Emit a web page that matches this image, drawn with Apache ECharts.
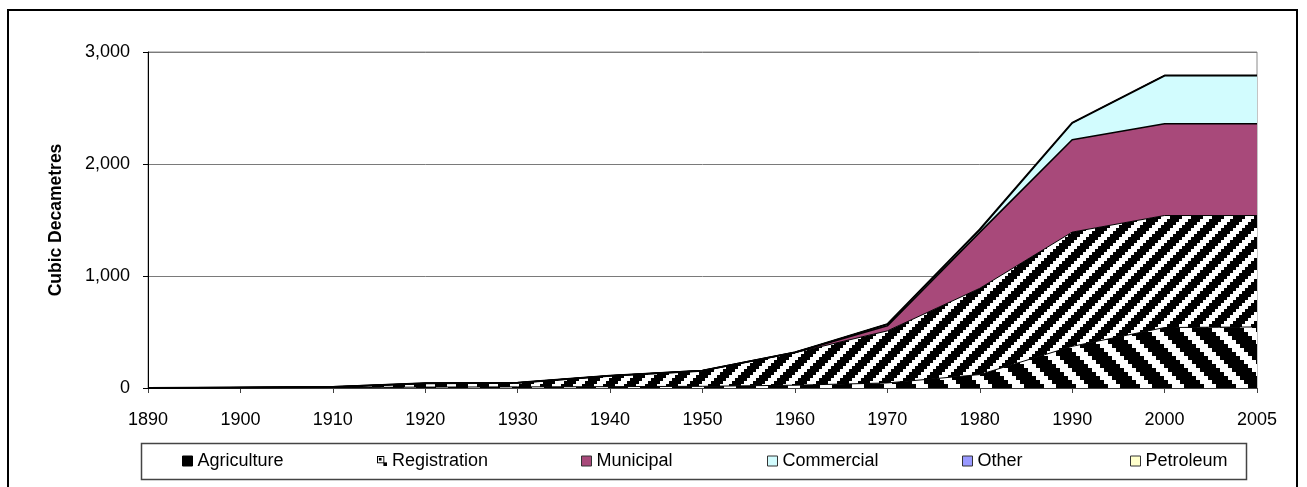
<!DOCTYPE html>
<html>
<head>
<meta charset="utf-8">
<script src="https://cdn.jsdelivr.net/npm/echarts@6/dist/echarts.min.js"></script>
<style>
  html, body { margin: 0; padding: 0; background: #fff; }
  #chart { position: absolute; left: 0; top: 0; width: 1307px; height: 487px; }
  #frame { position: absolute; left: 7px; top: 9px; width: 1291px; height: 520px;
           border: 2px solid #000; box-sizing: border-box; pointer-events: none; }
</style>
</head>
<body>
<div id="chart"></div>
<div id="frame"></div>
<script>
// Licensed water allocations by purpose (cubic decametres)
const years = ['1890', '1900', '1910', '1920', '1930', '1940', '1950', '1960', '1970', '1980', '1990', '2000', '2005'];
const agriculture  = [0, 2, 4, 8, 10, 12, 15, 25, 45, 120, 372, 540, 545];
const registration = [0, 3, 6, 34, 37, 98, 140, 290, 465, 770, 1020, 1000, 995];
const municipal    = [0, 0, 0, 0, 0, 0, 0, 3, 45, 500, 825, 820, 820];
const commercial   = [0, 0, 0, 0, 0, 0, 0, 0, 15, 25, 150, 430, 430];
const other        = [0, 0, 0, 0, 0, 0, 0, 0, 0, 0, 0, 0, 0];
const petroleum    = [0, 0, 0, 0, 0, 0, 0, 0, 0, 0, 0, 0, 0];
const yTicks = [0, 1000, 2000, 3000];

const FONT = '"Liberation Sans", Arial, sans-serif';

// Blocky black/white diagonal hatch tile. dir > 0 gives "/" stripes, dir < 0 gives "\" stripes.
function stripeTile(cell, period, dark, dir) {
  const size = cell * period;
  const c = document.createElement('canvas');
  c.width = c.height = size;
  const g = c.getContext('2d');
  g.fillStyle = '#fff';
  g.fillRect(0, 0, size, size);
  g.fillStyle = '#000';
  for (let i = 0; i < period; i++) {
    for (let j = 0; j < period; j++) {
      const k = dir > 0 ? (i + j) : (i - j + period);
      if (k % period < dark) g.fillRect(i * cell, j * cell, cell, cell);
    }
  }
  return c;
}

// Small legend swatch for the registration hatch
function registrationIcon() {
  const c = document.createElement('canvas');
  c.width = c.height = 11;
  const g = c.getContext('2d');
  g.fillStyle = '#fff';
  g.fillRect(0, 0, 11, 11);
  g.strokeStyle = '#000';
  g.lineWidth = 1;
  g.strokeRect(0.5, 0.5, 7, 7);
  g.fillStyle = '#000';
  g.fillRect(2, 2, 3, 3);
  g.fillRect(7, 7, 4, 4);
  return 'image://' + c.toDataURL();
}

const agriPattern = { image: stripeTile(4, 8, 5, -1), repeat: 'repeat' };
const regPattern  = { image: stripeTile(3, 7, 4, 1), repeat: 'repeat' };

const seriesDefs = [
  { name: 'Agriculture',  data: agriculture,  fill: agriPattern, line: 1 },
  { name: 'Registration', data: registration, fill: regPattern,  line: 1 },
  { name: 'Municipal',    data: municipal,    fill: '#A8497A',   line: 1.6 },
  { name: 'Commercial',   data: commercial,   fill: '#D2FCFE',   line: 2 },
  { name: 'Other',        data: other,        fill: '#9999FF',   line: 1 },
  { name: 'Petroleum',    data: petroleum,    fill: '#FFFFCC',   line: 1 }
];

const legendItems = [
  { name: 'Agriculture',  left: 182,  itemStyle: { color: '#000', borderColor: '#000', borderWidth: 1 } },
  { name: 'Registration', left: 377,  icon: registrationIcon() },
  { name: 'Municipal',    left: 581,  itemStyle: { color: '#A8497A', borderColor: '#333', borderWidth: 1 } },
  { name: 'Commercial',   left: 767,  itemStyle: { color: '#D2FCFE', borderColor: '#333', borderWidth: 1 } },
  { name: 'Other',        left: 962,  itemStyle: { color: '#9999FF', borderColor: '#333', borderWidth: 1 } },
  { name: 'Petroleum',    left: 1130, itemStyle: { color: '#FFFFCC', borderColor: '#333', borderWidth: 1 } }
];

const chart = echarts.init(document.getElementById('chart'), null, { renderer: 'canvas' });

chart.setOption({
  backgroundColor: '#fff',
  animation: false,
  grid: {
    left: 148, right: 50, top: 52, bottom: 99,
    show: true, borderColor: '#8a8a8a', borderWidth: 1, backgroundColor: '#fff'
  },
  xAxis: {
    type: 'category',
    data: years,
    boundaryGap: false,
    axisLine: { lineStyle: { color: '#404040', width: 1 } },
    axisTick: { show: true, length: 5, interval: 0, lineStyle: { color: '#404040' } },
    axisLabel: { interval: 0, margin: 23, fontSize: 18, color: '#000', fontFamily: FONT },
    splitLine: { show: false }
  },
  yAxis: {
    type: 'value',
    min: yTicks[0],
    max: yTicks[yTicks.length - 1],
    interval: 1000,
    name: 'Cubic Decametres',
    nameLocation: 'middle',
    nameGap: 83,
    nameTextStyle: { fontSize: 17.5, fontWeight: 'bold', color: '#000', fontFamily: FONT },
    axisLine: { show: true, lineStyle: { color: '#000', width: 1 } },
    axisTick: { show: true, length: 5, lineStyle: { color: '#000' } },
    axisLabel: {
      margin: 18, fontSize: 18, color: '#000', fontFamily: FONT,
      formatter: v => v.toLocaleString('en-US')
    },
    splitLine: { show: true, lineStyle: { color: '#7a7a7a', width: 1 } }
  },
  legend: legendItems.map(it => ({
    left: it.left,
    top: 452,
    padding: 0,
    itemWidth: 10,
    itemHeight: 10,
    selectedMode: false,
    icon: 'rect',
    textStyle: { fontSize: 18, color: '#000', fontFamily: FONT },
    data: [it.icon ? { name: it.name, icon: it.icon } : { name: it.name, itemStyle: it.itemStyle }]
  })),
  graphic: [{
    type: 'rect',
    silent: true,
    z: -1,
    shape: { x: 141.5, y: 443.5, width: 1105, height: 36 },
    style: { fill: 'none', stroke: '#444', lineWidth: 1.5 }
  }],
  series: seriesDefs.map(s => ({
    name: s.name,
    type: 'line',
    stack: 'total',
    data: s.data,
    symbol: 'none',
    smooth: false,
    itemStyle: { color: typeof s.fill === 'string' ? s.fill : '#000' },
    lineStyle: { color: '#000', width: s.line },
    areaStyle: { color: s.fill, opacity: 1 },
    emphasis: { disabled: true }
  }))
});
</script>
</body>
</html>
